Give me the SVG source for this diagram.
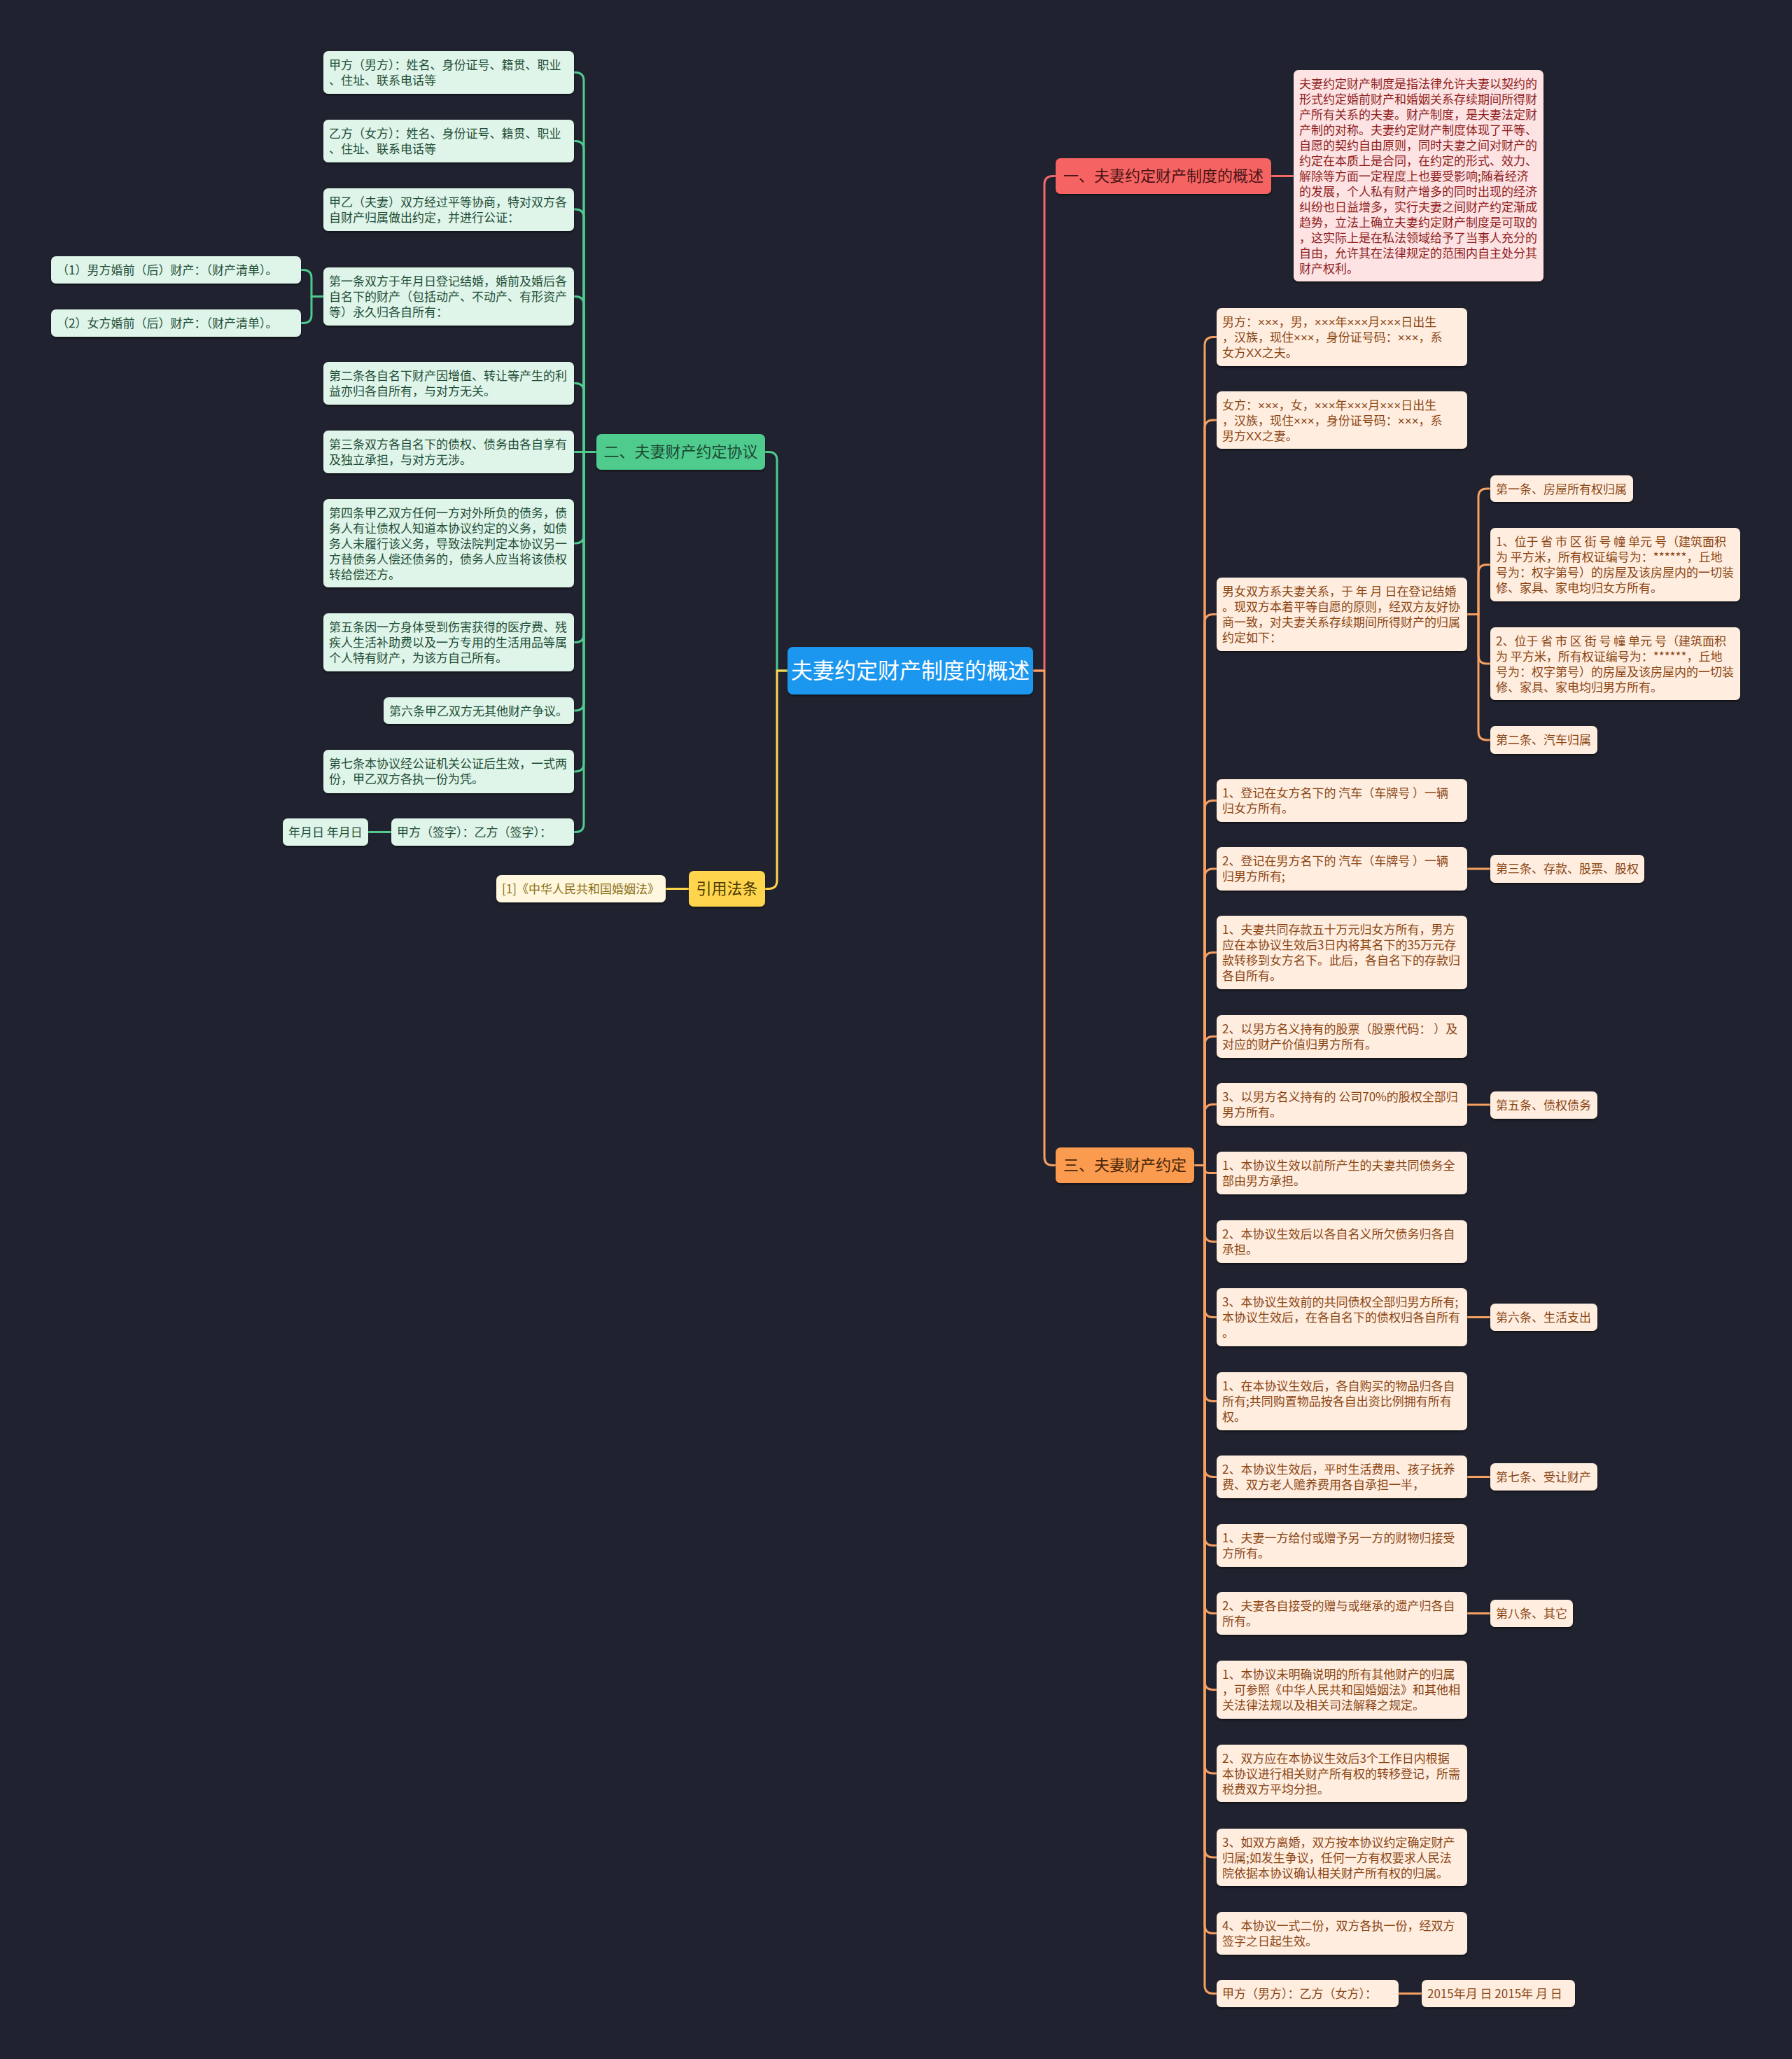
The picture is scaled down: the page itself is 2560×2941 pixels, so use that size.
<svg xmlns="http://www.w3.org/2000/svg" width="2560" height="2941" viewBox="0 0 2560 2941">
<defs>
<filter id="sh" x="-5%" y="-10%" width="110%" height="130%">
<feDropShadow dx="0" dy="2" stdDeviation="1.5" flood-color="#000" flood-opacity="0.5"/>
</filter>
<style>
text{font-family:"Noto Sans CJK SC","Noto Sans",sans-serif;}
.lat{font-family:"Liberation Sans","Noto Sans CJK SC",sans-serif;}
.t17{font-size:17px;}
.t22{font-size:22px;}
.box{filter:url(#sh);}
.c{fill:none;stroke-width:3;stroke-linejoin:round;}
.cg{stroke:#4fcb8d;} .cr{stroke:#f26a6a;} .co{stroke:#f7a061;} .cy{stroke:#ffd54d;}
.root{fill:#1b97ef;} .root-t{font-size:31px;fill:#ffffff;text-anchor:middle;}
.bg{fill:#4fcb8d;} .bg-t{fill:#1d4a33;text-anchor:middle;}
.br{fill:#f56363;} .br-t{fill:#4a1414;text-anchor:middle;}
.bo{fill:#fa9b50;} .bo-t{fill:#4a2608;text-anchor:middle;}
.by{fill:#ffd54d;} .by-t{fill:#4a3800;text-anchor:middle;}
.ng{fill:#dff5e9;} .ng-t{fill:#1f4d37;}
.nr{fill:#fde3e3;} .nr-t{fill:#8f1e1e;}
.no{fill:#ffeee0;} .no-t{fill:#8b4513;}
.ny{fill:#fff7de;} .ny-t{fill:#8c6d13;}
</style>
</defs>
<rect x="0" y="0" width="2560" height="2941" fill="#20232f"/>

<g id="connectors">
<path class="c cg" d="M1125,958 H1110 V657.5 Q1110,645.5 1098,645.5 H1093"/>
<path class="c cy" d="M1125,958 H1110 V1257.5 Q1110,1269.5 1098,1269.5 H1093"/>
<path class="c cy" d="M984,1269.5 H951"/>
<path class="c cr" d="M1476,958 H1492 V263.5 Q1492,251.5 1504,251.5 H1508"/>
<path class="c cr" d="M1816,251.5 H1848"/>
<path class="c co" d="M1476,958 H1492 V1652.5 Q1492,1664.5 1504,1664.5 H1508"/>

<path class="c cg" d="M852,645.5 H834 V115.5 Q834,103.5 822,103.5 H820"/>
<path class="c cg" d="M852,645.5 H834 V213.5 Q834,201.5 822,201.5 H820"/>
<path class="c cg" d="M852,645.5 H834 V311 Q834,299 822,299 H820"/>
<path class="c cg" d="M852,645.5 H834 V435.5 Q834,423.5 822,423.5 H820"/>
<path class="c cg" d="M852,645.5 H834 V559.5 Q834,547.5 822,547.5 H820"/>
<path class="c cg" d="M852,645.5 H820"/>
<path class="c cg" d="M852,645.5 H834 V764 Q834,776 822,776 H820"/>
<path class="c cg" d="M852,645.5 H834 V905.5 Q834,917.5 822,917.5 H820"/>
<path class="c cg" d="M852,645.5 H834 V1003 Q834,1015 822,1015 H820"/>
<path class="c cg" d="M852,645.5 H834 V1090 Q834,1102 822,1102 H820"/>
<path class="c cg" d="M852,645.5 H834 V1176.5 Q834,1188.5 822,1188.5 H820"/>
<path class="c cg" d="M462,423.5 H445 V397.5 Q445,385.5 433,385.5 H430"/>
<path class="c cg" d="M462,423.5 H445 V449.5 Q445,461.5 433,461.5 H430"/>
<path class="c cg" d="M559,1188.5 H526"/>

<path class="c co" d="M1706,1664.5 H1721 V493.5 Q1721,481.5 1733,481.5 H1738"/>
<path class="c co" d="M1706,1664.5 H1721 V612 Q1721,600 1733,600 H1738"/>
<path class="c co" d="M1706,1664.5 H1721 V889.5 Q1721,877.5 1733,877.5 H1738"/>
<path class="c co" d="M1706,1664.5 H1721 V1155.5 Q1721,1143.5 1733,1143.5 H1738"/>
<path class="c co" d="M1706,1664.5 H1721 V1253 Q1721,1241 1733,1241 H1738"/>
<path class="c co" d="M1706,1664.5 H1721 V1372.5 Q1721,1360.5 1733,1360.5 H1738"/>
<path class="c co" d="M1706,1664.5 H1721 V1492.5 Q1721,1480.5 1733,1480.5 H1738"/>
<path class="c co" d="M1706,1664.5 H1721 V1589.5 Q1721,1577.5 1733,1577.5 H1738"/>
<path class="c co" d="M1706,1664.5 H1721 V1669.5 Q1721,1675.5 1727,1675.5 H1738"/>
<path class="c co" d="M1706,1664.5 H1721 V1761.5 Q1721,1773.5 1733,1773.5 H1738"/>
<path class="c co" d="M1706,1664.5 H1721 V1869.5 Q1721,1881.5 1733,1881.5 H1738"/>
<path class="c co" d="M1706,1664.5 H1721 V1989.5 Q1721,2001.5 1733,2001.5 H1738"/>
<path class="c co" d="M1706,1664.5 H1721 V2097.5 Q1721,2109.5 1733,2109.5 H1738"/>
<path class="c co" d="M1706,1664.5 H1721 V2195.5 Q1721,2207.5 1733,2207.5 H1738"/>
<path class="c co" d="M1706,1664.5 H1721 V2292.5 Q1721,2304.5 1733,2304.5 H1738"/>
<path class="c co" d="M1706,1664.5 H1721 V2401.5 Q1721,2413.5 1733,2413.5 H1738"/>
<path class="c co" d="M1706,1664.5 H1721 V2521 Q1721,2533 1733,2533 H1738"/>
<path class="c co" d="M1706,1664.5 H1721 V2641 Q1721,2653 1733,2653 H1738"/>
<path class="c co" d="M1706,1664.5 H1721 V2749.5 Q1721,2761.5 1733,2761.5 H1738"/>
<path class="c co" d="M1706,1664.5 H1721 V2835.5 Q1721,2847.5 1733,2847.5 H1738"/>
<path class="c co" d="M2096,877.5 H2112 V710 Q2112,698 2124,698 H2129"/>
<path class="c co" d="M2096,877.5 H2112 V818.5 Q2112,806.5 2124,806.5 H2129"/>
<path class="c co" d="M2096,877.5 H2112 V936 Q2112,948 2124,948 H2129"/>
<path class="c co" d="M2096,877.5 H2112 V1045 Q2112,1057 2124,1057 H2129"/>
<path class="c co" d="M2096,1241 H2129"/>
<path class="c co" d="M2096,1578 H2129"/>
<path class="c co" d="M2096,1881.5 H2129"/>
<path class="c co" d="M2096,2109.5 H2129"/>
<path class="c co" d="M2096,2304.5 H2129"/>
<path class="c co" d="M1998,2847.5 H2031"/>
</g>

<g id="root"><rect class="box root" x="1125" y="924" width="351" height="68" rx="8"/><text class="root-t" x="1300.5" y="969">夫妻约定财产制度的概述</text></g>

<g id="b2"><rect class="box bg" x="852" y="620" width="241" height="51" rx="7"/><text class="t22 bg-t" x="972.5" y="653">二、夫妻财产约定协议</text></g>
<g id="bref"><rect class="box by" x="984" y="1244" width="109" height="51" rx="7"/><text class="t22 by-t" x="1038.5" y="1277">引用法条</text></g>
<g id="b1"><rect class="box br" x="1508" y="226" width="308" height="51" rx="7"/><text class="t22 br-t" x="1662" y="259">一、夫妻约定财产制度的概述</text></g>
<g id="b3"><rect class="box bo" x="1508" y="1639" width="198" height="51" rx="7"/><text class="t22 bo-t" x="1607" y="1672">三、夫妻财产约定</text></g>

<g id="desc1"><rect class="box nr" x="1848" y="100" width="357" height="302" rx="7"/><text class="t17 nr-t"><tspan x="1856" y="126">夫妻约定财产制度是指法律允许夫妻以契约的</tspan><tspan x="1856" y="148">形式约定婚前财产和婚姻关系存续期间所得财</tspan><tspan x="1856" y="170">产所有关系的夫妻。财产制度，是夫妻法定财</tspan><tspan x="1856" y="192">产制的对称。夫妻约定财产制度体现了平等、</tspan><tspan x="1856" y="214">自愿的契约自由原则，同时夫妻之间对财产的</tspan><tspan x="1856" y="236">约定在本质上是合同，在约定的形式、效力、</tspan><tspan x="1856" y="258">解除等方面一定程度上也要受影响;随着经济</tspan><tspan x="1856" y="280">的发展，个人私有财产增多的同时出现的经济</tspan><tspan x="1856" y="302">纠纷也日益增多，实行夫妻之间财产约定渐成</tspan><tspan x="1856" y="324">趋势，立法上确立夫妻约定财产制度是可取的</tspan><tspan x="1856" y="346">，这实际上是在私法领域给予了当事人充分的</tspan><tspan x="1856" y="368">自由，允许其在法律规定的范围内自主处分其</tspan><tspan x="1856" y="390">财产权利。</tspan></text></g>

<g id="ref1"><rect class="box ny" x="709" y="1250" width="242" height="39" rx="7"/><text class="t17 ny-t" x="717" y="1276">[1]《中华人民共和国婚姻法》</text></g>

<g id="g1"><rect class="box ng" x="462" y="73" width="358" height="61" rx="7"/><text class="t17 ng-t"><tspan x="470" y="99">甲方（男方）：姓名、身份证号、籍贯、职业</tspan><tspan x="470" y="121">、住址、联系电话等</tspan></text></g>
<g id="g2"><rect class="box ng" x="462" y="171" width="358" height="61" rx="7"/><text class="t17 ng-t"><tspan x="470" y="197">乙方（女方）：姓名、身份证号、籍贯、职业</tspan><tspan x="470" y="219">、住址、联系电话等</tspan></text></g>
<g id="g3"><rect class="box ng" x="462" y="269" width="358" height="61" rx="7"/><text class="t17 ng-t"><tspan x="470" y="295">甲乙（夫妻）双方经过平等协商，特对双方各</tspan><tspan x="470" y="317">自财产归属做出约定，并进行公证：</tspan></text></g>
<g id="g4"><rect class="box ng" x="462" y="382" width="358" height="83" rx="7"/><text class="t17 ng-t"><tspan x="470" y="408">第一条双方于年月日登记结婚，婚前及婚后各</tspan><tspan x="470" y="430">自名下的财产（包括动产、不动产、有形资产</tspan><tspan x="470" y="452">等）永久归各自所有：</tspan></text></g>
<g id="g4a"><rect class="box ng" x="73" y="366" width="357" height="39" rx="7"/><text class="t17 ng-t" x="81" y="392">（1）男方婚前（后）财产：（财产清单）。</text></g>
<g id="g4b"><rect class="box ng" x="73" y="442" width="357" height="39" rx="7"/><text class="t17 ng-t" x="81" y="468">（2）女方婚前（后）财产：（财产清单）。</text></g>
<g id="g5"><rect class="box ng" x="462" y="517" width="358" height="61" rx="7"/><text class="t17 ng-t"><tspan x="470" y="543">第二条各自名下财产因增值、转让等产生的利</tspan><tspan x="470" y="565">益亦归各自所有，与对方无关。</tspan></text></g>
<g id="g6"><rect class="box ng" x="462" y="615" width="358" height="61" rx="7"/><text class="t17 ng-t"><tspan x="470" y="641">第三条双方各自名下的债权、债务由各自享有</tspan><tspan x="470" y="663">及独立承担，与对方无涉。</tspan></text></g>
<g id="g7"><rect class="box ng" x="462" y="713" width="358" height="126" rx="7"/><text class="t17 ng-t"><tspan x="470" y="739">第四条甲乙双方任何一方对外所负的债务，债</tspan><tspan x="470" y="761">务人有让债权人知道本协议约定的义务，如债</tspan><tspan x="470" y="783">务人未履行该义务，导致法院判定本协议另一</tspan><tspan x="470" y="805">方替债务人偿还债务的，债务人应当将该债权</tspan><tspan x="470" y="827">转给偿还方。</tspan></text></g>
<g id="g8"><rect class="box ng" x="462" y="876" width="358" height="83" rx="7"/><text class="t17 ng-t"><tspan x="470" y="902">第五条因一方身体受到伤害获得的医疗费、残</tspan><tspan x="470" y="924">疾人生活补助费以及一方专用的生活用品等属</tspan><tspan x="470" y="946">个人特有财产，为该方自己所有。</tspan></text></g>
<g id="g9"><rect class="box ng" x="548" y="996" width="272" height="38" rx="7"/><text class="t17 ng-t" x="556" y="1022">第六条甲乙双方无其他财产争议。</text></g>
<g id="g10"><rect class="box ng" x="462" y="1071" width="358" height="62" rx="7"/><text class="t17 ng-t"><tspan x="470" y="1097">第七条本协议经公证机关公证后生效，一式两</tspan><tspan x="470" y="1119">份，甲乙双方各执一份为凭。</tspan></text></g>
<g id="g11"><rect class="box ng" x="559" y="1169" width="261" height="39" rx="7"/><text class="t17 ng-t" x="567" y="1195">甲方（签字）：乙方（签字）：</text></g>
<g id="g11a"><rect class="box ng" x="404" y="1169" width="122" height="39" rx="7"/><text class="t17 ng-t" x="412" y="1195">年月日 年月日</text></g>

<g id="o1"><rect class="box no" x="1738" y="440" width="358" height="83" rx="7"/><text class="t17 no-t lat"><tspan x="1746" y="466">男方：×××，男，×××年×××月×××日出生</tspan><tspan x="1746" y="488">，汉族，现住×××，身份证号码：×××，系</tspan><tspan x="1746" y="510">女方XX之夫。</tspan></text></g>
<g id="o2"><rect class="box no" x="1738" y="559" width="358" height="82" rx="7"/><text class="t17 no-t lat"><tspan x="1746" y="585">女方：×××，女，×××年×××月×××日出生</tspan><tspan x="1746" y="607">，汉族，现住×××，身份证号码：×××，系</tspan><tspan x="1746" y="629">男方XX之妻。</tspan></text></g>
<g id="o3"><rect class="box no" x="1738" y="825" width="358" height="105" rx="7"/><text class="t17 no-t"><tspan x="1746" y="851">男女双方系夫妻关系，于 年 月 日在登记结婚</tspan><tspan x="1746" y="873">。现双方本着平等自愿的原则，经双方友好协</tspan><tspan x="1746" y="895">商一致，对夫妻关系存续期间所得财产的归属</tspan><tspan x="1746" y="917">约定如下：</tspan></text></g>
<g id="o3a"><rect class="box no" x="2129" y="679" width="204" height="38" rx="7"/><text class="t17 no-t" x="2137" y="705">第一条、房屋所有权归属</text></g>
<g id="o3b"><rect class="box no" x="2129" y="754" width="357" height="105" rx="7"/><text class="t17 no-t"><tspan x="2137" y="780">1、位于 省 市 区 街 号 幢 单元 号（建筑面积</tspan><tspan x="2137" y="802">为 平方米，所有权证编号为：******，丘地</tspan><tspan x="2137" y="824">号为：权字第号）的房屋及该房屋内的一切装</tspan><tspan x="2137" y="846">修、家具、家电均归女方所有。</tspan></text></g>
<g id="o3c"><rect class="box no" x="2129" y="896" width="357" height="104" rx="7"/><text class="t17 no-t"><tspan x="2137" y="922">2、位于 省 市 区 街 号 幢 单元 号（建筑面积</tspan><tspan x="2137" y="944">为 平方米，所有权证编号为：******，丘地</tspan><tspan x="2137" y="966">号为：权字第号）的房屋及该房屋内的一切装</tspan><tspan x="2137" y="988">修、家具、家电均归男方所有。</tspan></text></g>
<g id="o3d"><rect class="box no" x="2129" y="1037" width="153" height="40" rx="7"/><text class="t17 no-t" x="2137" y="1063">第二条、汽车归属</text></g>
<g id="o4"><rect class="box no" x="1738" y="1113" width="358" height="61" rx="7"/><text class="t17 no-t"><tspan x="1746" y="1139">1、登记在女方名下的 汽车（车牌号 ）一辆</tspan><tspan x="1746" y="1161">归女方所有。</tspan></text></g>
<g id="o5"><rect class="box no" x="1738" y="1210" width="358" height="62" rx="7"/><text class="t17 no-t"><tspan x="1746" y="1236">2、登记在男方名下的 汽车（车牌号 ）一辆</tspan><tspan x="1746" y="1258">归男方所有;</tspan></text></g>
<g id="o5a"><rect class="box no" x="2129" y="1221" width="220" height="40" rx="7"/><text class="t17 no-t" x="2137" y="1247">第三条、存款、股票、股权</text></g>
<g id="o6"><rect class="box no" x="1738" y="1308" width="358" height="105" rx="7"/><text class="t17 no-t"><tspan x="1746" y="1334">1、夫妻共同存款五十万元归女方所有，男方</tspan><tspan x="1746" y="1356">应在本协议生效后3日内将其名下的35万元存</tspan><tspan x="1746" y="1378">款转移到女方名下。此后，各自名下的存款归</tspan><tspan x="1746" y="1400">各自所有。</tspan></text></g>
<g id="o7"><rect class="box no" x="1738" y="1450" width="358" height="61" rx="7"/><text class="t17 no-t"><tspan x="1746" y="1476">2、以男方名义持有的股票（股票代码： ）及</tspan><tspan x="1746" y="1498">对应的财产价值归男方所有。</tspan></text></g>
<g id="o8"><rect class="box no" x="1738" y="1547" width="358" height="61" rx="7"/><text class="t17 no-t"><tspan x="1746" y="1573">3、以男方名义持有的 公司70%的股权全部归</tspan><tspan x="1746" y="1595">男方所有。</tspan></text></g>
<g id="o8a"><rect class="box no" x="2129" y="1559" width="153" height="39" rx="7"/><text class="t17 no-t" x="2137" y="1585">第五条、债权债务</text></g>
<g id="o9"><rect class="box no" x="1738" y="1645" width="358" height="61" rx="7"/><text class="t17 no-t"><tspan x="1746" y="1671">1、本协议生效以前所产生的夫妻共同债务全</tspan><tspan x="1746" y="1693">部由男方承担。</tspan></text></g>
<g id="o10"><rect class="box no" x="1738" y="1743" width="358" height="61" rx="7"/><text class="t17 no-t"><tspan x="1746" y="1769">2、本协议生效后以各自名义所欠债务归各自</tspan><tspan x="1746" y="1791">承担。</tspan></text></g>
<g id="o11"><rect class="box no" x="1738" y="1840" width="358" height="83" rx="7"/><text class="t17 no-t"><tspan x="1746" y="1866">3、本协议生效前的共同债权全部归男方所有;</tspan><tspan x="1746" y="1888">本协议生效后，在各自名下的债权归各自所有</tspan><tspan x="1746" y="1910">。</tspan></text></g>
<g id="o11a"><rect class="box no" x="2129" y="1862" width="153" height="39" rx="7"/><text class="t17 no-t" x="2137" y="1888">第六条、生活支出</text></g>
<g id="o12"><rect class="box no" x="1738" y="1960" width="358" height="83" rx="7"/><text class="t17 no-t"><tspan x="1746" y="1986">1、在本协议生效后，各自购买的物品归各自</tspan><tspan x="1746" y="2008">所有;共同购置物品按各自出资比例拥有所有</tspan><tspan x="1746" y="2030">权。</tspan></text></g>
<g id="o13"><rect class="box no" x="1738" y="2079" width="358" height="61" rx="7"/><text class="t17 no-t"><tspan x="1746" y="2105">2、本协议生效后，平时生活费用、孩子抚养</tspan><tspan x="1746" y="2127">费、双方老人赡养费用各自承担一半，</tspan></text></g>
<g id="o13a"><rect class="box no" x="2129" y="2090" width="153" height="39" rx="7"/><text class="t17 no-t" x="2137" y="2116">第七条、受让财产</text></g>
<g id="o14"><rect class="box no" x="1738" y="2177" width="358" height="61" rx="7"/><text class="t17 no-t"><tspan x="1746" y="2203">1、夫妻一方给付或赠予另一方的财物归接受</tspan><tspan x="1746" y="2225">方所有。</tspan></text></g>
<g id="o15"><rect class="box no" x="1738" y="2274" width="358" height="61" rx="7"/><text class="t17 no-t"><tspan x="1746" y="2300">2、夫妻各自接受的赠与或继承的遗产归各自</tspan><tspan x="1746" y="2322">所有。</tspan></text></g>
<g id="o15a"><rect class="box no" x="2129" y="2285" width="118" height="39" rx="7"/><text class="t17 no-t" x="2137" y="2311">第八条、其它</text></g>
<g id="o16"><rect class="box no" x="1738" y="2372" width="358" height="83" rx="7"/><text class="t17 no-t"><tspan x="1746" y="2398">1、本协议未明确说明的所有其他财产的归属</tspan><tspan x="1746" y="2420">，可参照《中华人民共和国婚姻法》和其他相</tspan><tspan x="1746" y="2442">关法律法规以及相关司法解释之规定。</tspan></text></g>
<g id="o17"><rect class="box no" x="1738" y="2492" width="358" height="82" rx="7"/><text class="t17 no-t"><tspan x="1746" y="2518">2、双方应在本协议生效后3个工作日内根据</tspan><tspan x="1746" y="2540">本协议进行相关财产所有权的转移登记，所需</tspan><tspan x="1746" y="2562">税费双方平均分担。</tspan></text></g>
<g id="o18"><rect class="box no" x="1738" y="2612" width="358" height="82" rx="7"/><text class="t17 no-t"><tspan x="1746" y="2638">3、如双方离婚，双方按本协议约定确定财产</tspan><tspan x="1746" y="2660">归属;如发生争议，任何一方有权要求人民法</tspan><tspan x="1746" y="2682">院依据本协议确认相关财产所有权的归属。</tspan></text></g>
<g id="o19"><rect class="box no" x="1738" y="2731" width="358" height="61" rx="7"/><text class="t17 no-t"><tspan x="1746" y="2757">4、本协议一式二份，双方各执一份，经双方</tspan><tspan x="1746" y="2779">签字之日起生效。</tspan></text></g>
<g id="o20"><rect class="box no" x="1738" y="2828" width="260" height="39" rx="7"/><text class="t17 no-t" x="1746" y="2854">甲方（男方）：乙方（女方）：</text></g>
<g id="o20a"><rect class="box no" x="2031" y="2828" width="219" height="39" rx="7"/><text class="t17 no-t" x="2039" y="2854">2015年月 日 2015年 月 日</text></g>
</svg>
